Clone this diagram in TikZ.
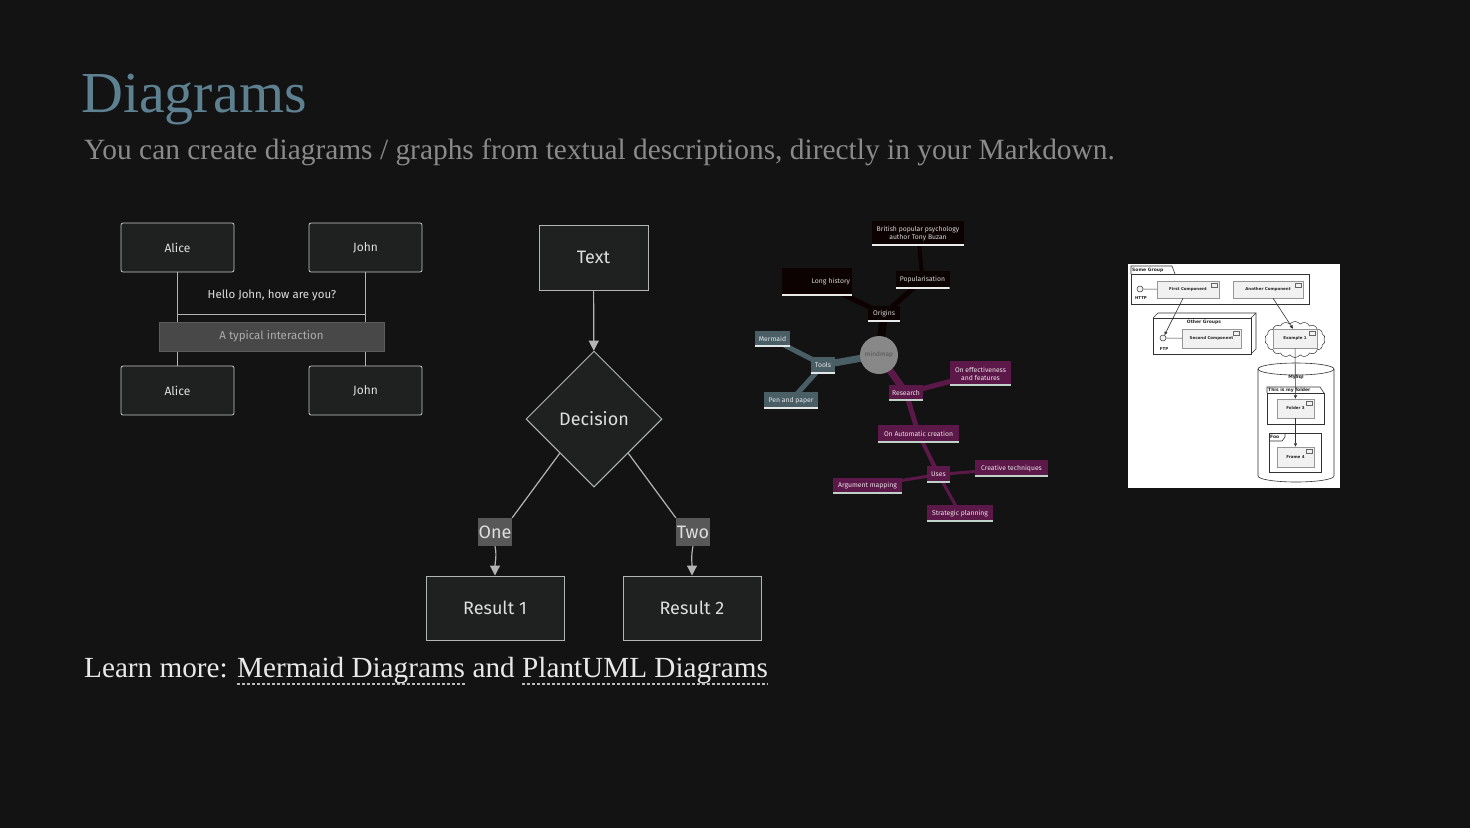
\documentclass[tikz,border=0pt]{standalone}
\usepackage{fontspec}
\setmainfont{Liberation Serif}
\newfontfamily\mfont{Fira Sans}
\newfontfamily\pfont{DejaVu Sans}
\usetikzlibrary{arrows.meta,shapes.geometric,shapes.symbols,calc}
\pgfdeclarelayer{back}\pgfdeclarelayer{edges}\pgfsetlayers{back,edges,main}
\definecolor{bgc}{RGB}{19,19,19}
\definecolor{titlec}{RGB}{94,129,146}
\definecolor{subc}{RGB}{138,138,138}
\definecolor{learnc}{RGB}{232,232,232}
\definecolor{mfill}{RGB}{31,32,32}
\definecolor{mbd}{RGB}{200,200,200}
\definecolor{mtext}{RGB}{222,222,222}
\definecolor{notef}{RGB}{72,72,72}
\definecolor{noteb}{RGB}{92,92,92}
\definecolor{notet}{RGB}{172,172,172}
\definecolor{lblf}{RGB}{88,88,88}
\definecolor{mmk}{RGB}{12,2,2}
\definecolor{mms}{RGB}{74,94,102}
\definecolor{mmp}{RGB}{92,24,72}
\definecolor{mmc}{RGB}{136,136,136}
\definecolor{mmct}{RGB}{84,84,84}
\definecolor{mmul}{RGB}{192,210,200}
\definecolor{plbd}{RGB}{50,50,50}
\definecolor{plcf}{RGB}{241,241,241}
\definecolor{plcb}{RGB}{150,150,150}
\tikzset{
  actorbox/.style={draw=mbd, fill=mfill, rounded corners=2pt, minimum width=113, minimum height=49,
    inner sep=0, font=\mfont\fontsize{12}{14}\selectfont, text=mtext, line width=0.8},
  life/.style={draw=mbd!90!black, line width=1.1},
  flowbox/.style={draw=mbd!90!black, fill=mfill, inner sep=0, font=\mfont\fontsize{18}{20}\selectfont,
    text=mtext, line width=1},
  flowedge/.style={draw=mbd!90!black, line width=1.2},
  flowarrow/.style={flowedge, -{Triangle[length=10pt,width=10pt,fill=mbd!90!black]}},
  edgelbl/.style={fill=lblf, inner sep=0, minimum width=34, minimum height=28,
    font=\mfont\fontsize{18}{20}\selectfont, text=mtext},
  mmnode/.style={inner sep=0, align=center, font=\mfont\fontsize{6.8}{8}\selectfont},
  mmK/.style={mmnode, fill=mmk, text=white!85!black,
    path picture={\fill[white!92!black] (path picture bounding box.south west) rectangle ([yshift=1.8pt]path picture bounding box.south east);}},
  mmS/.style={mmnode, fill=mms, text=white!85!mms,
    path picture={\fill[white!85!mms] (path picture bounding box.south west) rectangle ([yshift=1.8pt]path picture bounding box.south east);}},
  mmP/.style={mmnode, fill=mmp, text=white!88!mmp,
    path picture={\fill[mmul] (path picture bounding box.south west) rectangle ([yshift=1.8pt]path picture bounding box.south east);}},
  plcomp/.style={draw=plcb, fill=plcf, line width=0.5, inner sep=0,
    font=\pfont\bfseries\fontsize{4}{5}\selectfont, text=black!85,
    path picture={\draw[line width=0.35, draw=black!60] ([xshift=-8pt,yshift=-2pt]path picture bounding box.north east) rectangle ([xshift=-2pt,yshift=-6pt]path picture bounding box.north east);}},
  plline/.style={draw=plbd, line width=0.6},
  plarrow/.style={plline, -{Triangle[length=3.5pt,width=3pt]}},
  pllbl/.style={inner sep=0, font=\pfont\bfseries\fontsize{4.5}{5.5}\selectfont, text=black!85},
  linkline/.style={draw=learnc!80!black, line width=1.1, dash pattern=on 3pt off 2pt},
  learn/.style={anchor=base west, inner sep=0, font=\fontsize{29.2}{32}\selectfont, text=learnc},
}
\begin{document}
\begin{tikzpicture}[x=1pt,y=-1pt]
\begin{pgfonlayer}{back}
\fill[bgc] (0,0) rectangle (1470,828);
\end{pgfonlayer}
\useasboundingbox (0,0) rectangle (1470,828);

% ---------- title ----------
\node[anchor=base west, inner sep=0, font=\fontsize{58}{60}\selectfont, text=titlec] (title) at (81,112) {Diagrams};
\node[anchor=base west, inner sep=0, font=\fontsize{29.4}{32}\selectfont, text=subc] (sub) at (84,159)
  {You can create diagrams / graphs from textual descriptions, directly in your Markdown.};

% ---------- sequence diagram ----------
\node[actorbox] (a1) at (177.5,247.5) {Alice};
\node[actorbox] (j1) at (365.5,247.5) {John};
\node[actorbox] (a2) at (177.5,390.5) {Alice};
\node[actorbox] (j2) at (365.5,390.5) {John};
\draw[life] (a1) -- (a2);
\draw[life] (j1) -- (j2);
\draw[life] ([yshift=-42pt]a1.south) -- ([yshift=-42pt]j1.south);
\node[inner sep=0, font=\mfont\fontsize{11.5}{13}\selectfont, text=mtext] (msg) at (272,295) {Hello John, how are you?};
\node[fill=notef, draw=noteb, line width=0.8, minimum width=225, minimum height=29, inner sep=0,
  font=\mfont\fontsize{11.5}{13}\selectfont, text=notet] (note) at (271.5,336.5) {A typical interaction};

% ---------- flowchart ----------
\node[flowbox, minimum width=109, minimum height=65] (txt) at (593.5,257.5) {Text};
\node[flowbox, diamond, minimum size=136] (dec) at (594,419) {Decision};
\node[flowbox, minimum width=138, minimum height=64] (r1) at (495,608) {Result 1};
\node[flowbox, minimum width=138, minimum height=64] (r2) at (692,608) {Result 2};
\draw[flowarrow] (txt) -- (dec);
\node[edgelbl] (one) at (495,532) {One};
\node[edgelbl] (two) at (693,532) {Two};
\begin{pgfonlayer}{edges}
\draw[flowedge] (dec.south west) -- (one.north east);
\draw[flowedge] (dec.south east) -- (two.north west);
\end{pgfonlayer}
\draw[flowarrow] (one.south) .. controls (497,556) and (495,562) .. (r1.north);
\draw[flowarrow] (two.south) .. controls (691,556) and (692,562) .. (r2.north);

% ---------- mindmap ----------
\node[circle, fill=mmc, minimum size=38, inner sep=0, font=\mfont\fontsize{6.5}{7}\selectfont, text=mmct] (mm) at (879,355) {mindmap};
\node[mmK, minimum width=32, minimum height=16] (orig) at (884,314) {Origins};
\node[mmK, text width=66pt, align=right, inner xsep=2pt, minimum height=28] (longh) at (817,282) {Long history};
\node[mmK, minimum width=54, minimum height=18] (pop) at (922.5,280) {Popularisation};
\node[mmK, minimum width=92, minimum height=25] (brit) at (918,233.5) {British popular psychology\\author Tony Buzan};
\node[mmS, minimum width=24, minimum height=17] (tools) at (823,365) {Tools};
\node[mmS, minimum width=35, minimum height=16] (merm) at (772.5,339) {Mermaid};
\node[mmS, minimum width=54, minimum height=17] (pen) at (791,400.5) {Pen and paper};
\node[mmP, minimum width=34, minimum height=16] (res) at (906,393) {Research};
\node[mmP, minimum width=61, minimum height=25] (eff) at (980.5,373.5) {On effectiveness\\and features};
\node[mmP, minimum width=81, minimum height=18] (auto) at (918.5,434) {On Automatic creation};
\node[mmP, minimum width=23, minimum height=17] (uses) at (938.5,474.5) {Uses};
\node[mmP, minimum width=73, minimum height=17] (crea) at (1011.5,468.5) {Creative techniques};
\node[mmP, minimum width=69, minimum height=16] (argm) at (867.5,486) {Argument mapping};
\node[mmP, minimum width=66, minimum height=17] (strat) at (960,513.5) {Strategic planning};
\begin{pgfonlayer}{edges}
\draw[mmk, line width=8] (mm.center) -- (orig.center);
\draw[mmk, line width=5] (orig.center) -- (longh.center);
\draw[mmk, line width=5] (orig.center) -- (pop.center);
\draw[mmk, line width=4] (pop.center) -- (brit.center);
\draw[mms, line width=7] (mm.center) -- (tools.center);
\draw[mms, line width=5] (tools.center) -- (merm.center);
\draw[mms, line width=5] (tools.center) -- (pen.center);
\draw[mmp, line width=7] (mm.center) -- (res.center);
\draw[mmp, line width=5] (res.center) -- (eff.center);
\draw[mmp, line width=5] (res.center) -- (auto.center);
\draw[mmp, line width=4] (auto.center) -- (uses.center);
\draw[mmp, line width=3] (uses.center) -- (crea.center);
\draw[mmp, line width=3] (uses.center) -- (argm.center);
\draw[mmp, line width=3] (uses.center) -- (strat.center);
\end{pgfonlayer}

% ---------- PlantUML ----------
\fill[white] (1128,264) rectangle (1340,488);
% Some Group package
\draw[plline] (1131,274) rectangle (1309,304);
\draw[plline] (1131,274) -- (1131,266) -- (1172,266) -- (1175,274);
\node[pllbl, anchor=west] (sgl) at (1132,270) {Some Group};
\node[plcomp, minimum width=62, minimum height=17] (fc) at (1188,289.5) {First Component};
\node[plcomp, minimum width=70, minimum height=17] (ac) at (1268,289.5) {Another Component};
\node[circle, draw=plbd, fill=plcf, line width=0.5, minimum size=6, inner sep=0] (http) at (1140,289) {};
\node[pllbl, font=\pfont\bfseries\fontsize{4}{5}\selectfont] (httpl) at (1141,298) {HTTP};
\draw[plline] (http) -- (fc);
% Other Groups node
\draw[plline] (1153,318) rectangle (1251,354);
\draw[plline] (1153,318) -- (1158,313) -- (1256,313) -- (1256,349) -- (1251,354);
\draw[plline] (1251,318) -- (1256,313);
\node[pllbl] (ogl) at (1204,322) {Other Groups};
\node[plcomp, minimum width=59, minimum height=19] (sc) at (1211.5,338.5) {Second Component};
\node[circle, draw=plbd, fill=plcf, line width=0.5, minimum size=6, inner sep=0] (ftp) at (1163,338) {};
\node[pllbl, font=\pfont\bfseries\fontsize{4}{5}\selectfont] (ftpl) at (1164,349) {FTP};
\draw[plline] (ftp) -- (sc);
% Example 1 cloud
\node[cloud, cloud puffs=18, cloud puff arc=110, aspect=1.9, draw=plbd, line width=0.5, fill=white,
  minimum width=60, minimum height=36, inner sep=0] (cl) at (1295,339.5) {};
\node[plcomp, minimum width=44, minimum height=19] (ex1) at (1295,338.5) {Example 1};
% MySql database
\draw[plline, fill=white] (1258,369) -- (1258,476) arc[start angle=180, end angle=0, x radius=38, y radius=6]
  -- (1334,369) arc[start angle=0, end angle=-180, x radius=38, y radius=6] -- cycle;
\draw[plline] (1258,369) arc[start angle=180, end angle=0, x radius=38, y radius=6];
\node[pllbl] (dbl) at (1296,377) {MySql};
% folder
\draw[plline] (1267,393) rectangle (1324,424);
\draw[plline] (1267,393) -- (1267,387) -- (1320,387) -- (1324,393);
\node[pllbl, anchor=west] (fdl) at (1268,390.5) {This is my folder};
\node[plcomp, minimum width=37, minimum height=19] (f3) at (1295.5,408.5) {Folder 3};
% frame Foo
\draw[plline] (1269,433) rectangle (1321,472);
\draw[plline] (1269,441) -- (1282,441) -- (1285,437) -- (1285,433);
\node[pllbl, anchor=west] (fool) at (1270,437) {Foo};
\node[plcomp, minimum width=37, minimum height=20] (f4) at (1295.5,457) {Frame 4};
% arrows
\draw[plarrow] ([xshift=-5pt]fc.south) -- (ftp);
\draw[plarrow] ([xshift=5pt]ac.south) -- ([xshift=-2pt]ex1.north);
\draw[plarrow] (ex1) -- (f3);
\draw[plarrow] (f3) -- (f4);

% ---------- learn more ----------
\node[learn] (lm) at (84,677) {Learn more:};
\node[learn] (lk1) at (237,677) {Mermaid Diagrams};
\node[learn] (lk2) at (522,677) {PlantUML Diagrams};
\node[learn, anchor=base] (andw) at ($(lk1.base east)!0.5!(lk2.base west)$) {and};
\draw[linkline] ([yshift=-7pt]lk1.base west) -- ([yshift=-7pt]lk1.base east);
\draw[linkline] ([yshift=-7pt]lk2.base west) -- ([yshift=-7pt]lk2.base east);
\end{tikzpicture}
\end{document}
